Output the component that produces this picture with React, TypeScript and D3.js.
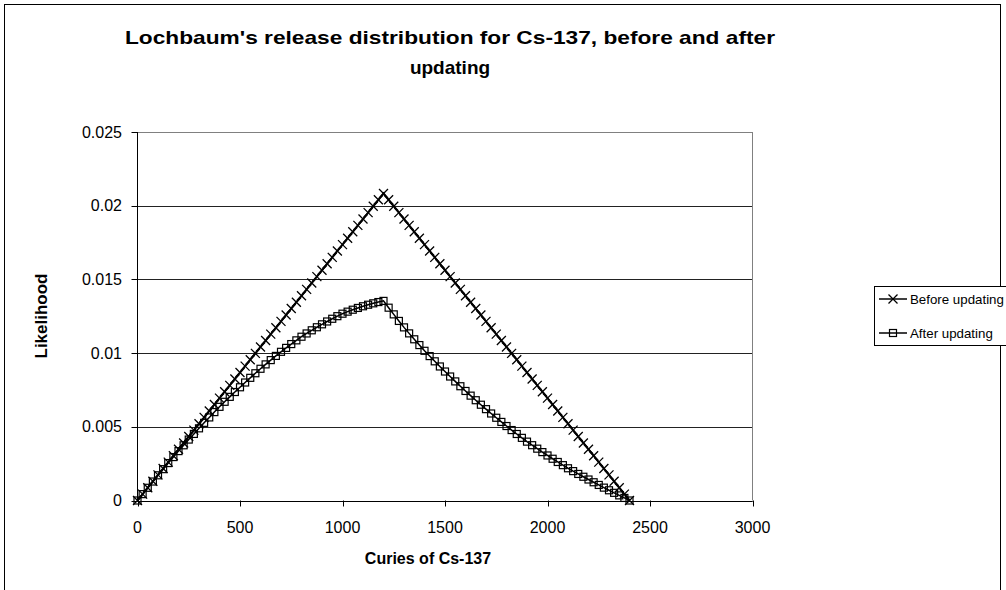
import React from 'react';
import * as d3 from 'd3';

// curies of Cs-137, one point every 25
const curies = [
  0, 25, 50, 75, 100, 125, 150, 175, 200, 225, 250, 275, 300, 325, 350, 375, 400, 425, 450, 475,
  500, 525, 550, 575, 600, 625, 650, 675, 700, 725, 750, 775, 800, 825, 850, 875, 900, 925, 950, 975,
  1000, 1025, 1050, 1075, 1100, 1125, 1150, 1175, 1200, 1225, 1250, 1275, 1300, 1325, 1350, 1375,
  1400, 1425, 1450, 1475, 1500, 1525, 1550, 1575, 1600, 1625, 1650, 1675, 1700, 1725, 1750, 1775,
  1800, 1825, 1850, 1875, 1900, 1925, 1950, 1975, 2000, 2025, 2050, 2075, 2100, 2125, 2150, 2175,
  2200, 2225, 2250, 2275, 2300, 2325, 2350, 2375, 2400,
];

const beforeUpdating = [
  0, 0.000434, 0.000868, 0.001302, 0.001736, 0.00217, 0.002604, 0.003038, 0.003472, 0.003906,
  0.00434, 0.004774, 0.005208, 0.005642, 0.006076, 0.00651, 0.006944, 0.007378, 0.007813, 0.008247,
  0.008681, 0.009115, 0.009549, 0.009983, 0.010417, 0.010851, 0.011285, 0.011719, 0.012153, 0.012587,
  0.013021, 0.013455, 0.013889, 0.014323, 0.014757, 0.015191, 0.015625, 0.016059, 0.016493, 0.016927,
  0.017361, 0.017795, 0.018229, 0.018663, 0.019097, 0.019531, 0.019965, 0.020399, 0.020833,
  0.020399, 0.019965, 0.019531, 0.019097, 0.018663, 0.018229, 0.017795, 0.017361, 0.016927, 0.016493,
  0.016059, 0.015625, 0.015191, 0.014757, 0.014323, 0.013889, 0.013455, 0.013021, 0.012587, 0.012153,
  0.011719, 0.011285, 0.010851, 0.010417, 0.009983, 0.009549, 0.009115, 0.008681, 0.008247, 0.007813,
  0.007378, 0.006944, 0.00651, 0.006076, 0.005642, 0.005208, 0.004774, 0.00434, 0.003906, 0.003472,
  0.003038, 0.002604, 0.00217, 0.001736, 0.001302, 0.000868, 0.000434, 0,
];

const afterUpdating = [
  0, 0.000432, 0.000862, 0.001287, 0.00171, 0.002127, 0.002539, 0.002947, 0.003351, 0.003745,
  0.004134, 0.004517, 0.004896, 0.005268, 0.005636, 0.005997, 0.006354, 0.006696, 0.007031, 0.00736,
  0.007682, 0.008005, 0.008322, 0.008633, 0.008937, 0.009234, 0.009525, 0.009809, 0.010087, 0.010353,
  0.010612, 0.010865, 0.011111, 0.011333, 0.011547, 0.011754, 0.011953, 0.012145, 0.012329, 0.012505,
  0.012674, 0.012812, 0.012943, 0.013064, 0.013177, 0.013281, 0.013377, 0.013463, 0.013542,
  0.013081, 0.012628, 0.012182, 0.011745, 0.011338, 0.010937, 0.010544, 0.010156, 0.009797, 0.009442,
  0.009093, 0.00875, 0.008412, 0.008079, 0.007752, 0.007431, 0.007114, 0.006803, 0.006498, 0.006198,
  0.005903, 0.005614, 0.005331, 0.005052, 0.004779, 0.004512, 0.00425, 0.003993, 0.003752, 0.003516,
  0.003283, 0.003055, 0.002832, 0.002613, 0.002398, 0.002187, 0.001993, 0.001801, 0.001611, 0.001424,
  0.001238, 0.001055, 0.000873, 0.000694, 0.000521, 0.000347, 0.000174, 0,
];

const xTicks = [0, 500, 1000, 1500, 2000, 2500, 3000];
const yTicks = [0, 0.005, 0.01, 0.015, 0.02, 0.025];
const seriesNames = ['Before updating', 'After updating'];

const W = 1006;
const H = 590;
const plot = { left: 137.5, right: 752.5, top: 132, bottom: 500.5 };
const FONT = 'Arial, "Liberation Sans", sans-serif';

const Cross: React.FC<{ x: number; y: number }> = ({ x, y }) => (
  <path d={`M${x - 4.5},${y - 4.5}L${x + 4.5},${y + 4.5}M${x - 4.5},${y + 4.5}L${x + 4.5},${y - 4.5}`} stroke="#000" strokeWidth={1.3} fill="none" />
);

const Square: React.FC<{ x: number; y: number }> = ({ x, y }) => (
  <rect x={x - 3.5} y={y - 3.5} width={7} height={7} stroke="#000" strokeWidth={1.2} fill="none" />
);

export default function App() {
  const x = d3.scaleLinear().domain([0, 3000]).range([plot.left, plot.right]);
  const y = d3.scaleLinear().domain([0, 0.025]).range([plot.bottom, plot.top]);

  const line = d3.line<number>()
    .x((_, i) => x(curies[i]))
    .y(d => y(d));

  const gy = (t: number) => Math.round(y(t)) + 0.5;
  const gx = (t: number) => Math.round(x(t)) + 0.5;

  return (
    <svg width={W} height={H} style={{ position: 'absolute', left: 0, top: 0, background: '#fff' }} fontFamily={FONT}>
      <rect x={4.5} y={4.5} width={996} height={620} fill="#fff" stroke="#000" strokeWidth={1} />

      <text x={450} y={44} textAnchor="middle" fontSize={19} fontWeight="bold" textLength={650} lengthAdjust="spacingAndGlyphs">
        Lochbaum's release distribution for Cs-137, before and after
      </text>
      <text x={450} y={74} textAnchor="middle" fontSize={19} fontWeight="bold">updating</text>

      {/* grid */}
      {yTicks.map(t => (
        <line key={t} x1={plot.left} x2={plot.right} y1={gy(t)} y2={gy(t)} stroke={t === 0.025 ? '#808080' : '#222'} strokeWidth={1} />
      ))}
      <line x1={plot.right} x2={plot.right} y1={plot.top} y2={plot.bottom} stroke="#808080" />

      {/* axes */}
      <line x1={plot.left} x2={plot.left} y1={plot.top} y2={plot.bottom} stroke="#000" />
      <line x1={plot.left} x2={plot.right} y1={gy(0)} y2={gy(0)} stroke="#000" />
      {yTicks.map(t => (
        <g key={t}>
          <line x1={plot.left - 6} x2={plot.left} y1={gy(t)} y2={gy(t)} stroke="#000" />
          <text x={122} y={y(t) + 5.5} textAnchor="end" fontSize={16}>{String(+t.toFixed(3))}</text>
        </g>
      ))}
      {xTicks.map(t => (
        <g key={t}>
          <line x1={gx(t)} x2={gx(t)} y1={plot.bottom} y2={plot.bottom + 6} stroke="#000" />
          <text x={x(t)} y={533} textAnchor="middle" fontSize={16}>{t}</text>
        </g>
      ))}

      <text x={428} y={564} textAnchor="middle" fontSize={16} fontWeight="bold">Curies of Cs-137</text>
      <text transform="translate(47,316) rotate(-90)" textAnchor="middle" fontSize={17} fontWeight="bold">Likelihood</text>

      {/* series */}
      <path d={line(beforeUpdating) ?? ''} fill="none" stroke="#000" strokeWidth={2} />
      {beforeUpdating.map((v, i) => <Cross key={i} x={x(curies[i])} y={y(v)} />)}
      <path d={line(afterUpdating) ?? ''} fill="none" stroke="#000" strokeWidth={1.5} />
      {afterUpdating.map((v, i) => <Square key={i} x={x(curies[i])} y={y(v)} />)}

      {/* legend */}
      <rect x={874.5} y={286.5} width={150} height={59} fill="#fff" stroke="#000" />
      {seriesNames.map((name, i) => {
        const ly = 299 + i * 34;
        return (
          <g key={name}>
            <line x1={879} x2={907} y1={ly} y2={ly} stroke="#000" strokeWidth={1.5} />
            {i === 0 ? <Cross x={893} y={ly} /> : <Square x={893} y={ly} />}
            <text x={910} y={ly + 5} fontSize={13.3}>{name}</text>
          </g>
        );
      })}
    </svg>
  );
}
